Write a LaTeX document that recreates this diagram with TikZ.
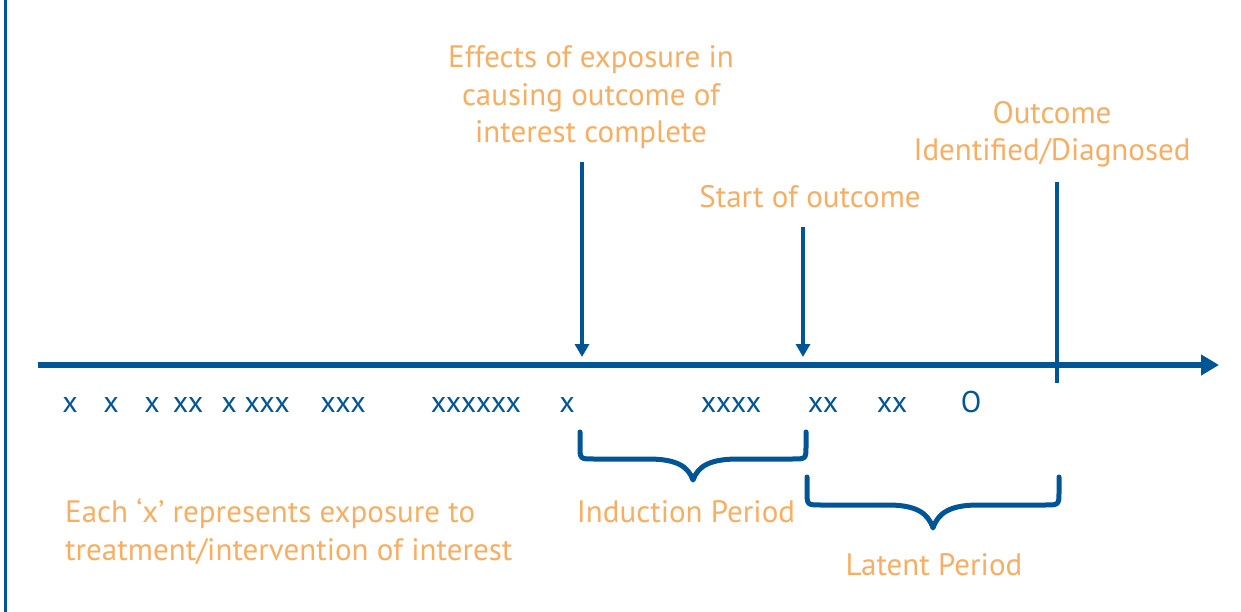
\documentclass[tikz,border=0pt]{standalone}
\usepackage{fontspec}
\setmainfont{PT Sans}
\usetikzlibrary{arrows.meta}
\definecolor{tlblue}{RGB}{0,85,150}
\definecolor{tlorange}{RGB}{248,174,98}
\begin{document}
\begin{tikzpicture}[x=1pt,y=-1pt,
  note/.style={text=tlorange, font=\fontsize{31}{37.5}\selectfont, inner sep=0pt, anchor=base},
  expo/.style={text=tlblue, font=\fontsize{30}{35}\selectfont, inner sep=0pt, anchor=base},
  axis/.style={draw=tlblue, line width=6pt, -{Triangle[length=18pt,width=20pt]}},
  pointer/.style={draw=tlblue, line width=3.2pt, -{Triangle[length=13pt,width=14pt]}},
  brace/.style={draw=tlblue, line width=5pt, line cap=round, line join=round},
]
\useasboundingbox (0,0) rectangle (1241,612);

% left frame rule
\draw[tlblue, line width=3pt] (5.5,0) -- (5.5,612);

% time axis
\coordinate (t0) at (38,365);
\coordinate (t1) at (1219,365);
\draw[axis] (t0) -- (t1);

% event markers
\coordinate (p1top) at (582,162);
\coordinate (p1tip) at (582,357);
\draw[pointer] (p1top) -- (p1tip);
\coordinate (p2top) at (803,227);
\coordinate (p2tip) at (803,357);
\draw[pointer] (p2top) -- (p2tip);
\coordinate (diagtop) at (1057,182);
\coordinate (diagbot) at (1057,383);
\draw[tlblue, line width=4pt] (diagtop) -- (diagbot);

% event labels (base anchor sits on the last line)
\node[note, align=center] (effects) at (591,143) {Effects of exposure in\\causing outcome of\\interest complete};
\node[note] (start) at (810,208) {Start of outcome};
\node[note, align=center] (diag) at (1052,161) {Outcome\\Identified/Diagnosed};

% exposures along the axis
\node[expo] (m1) at (70,412) {x};
\node[expo] (m2) at (111,412) {x};
\node[expo] (m3) at (152,412) {x};
\node[expo] (m4) at (188,412) {xx};
\node[expo] (m5) at (229,412) {x};
\node[expo] (m6) at (267,412) {xxx};
\node[expo] (m7) at (343,412) {xxx};
\node[expo] (m8) at (476,412) {xxxxxx};
\node[expo] (m9) at (567,412) {x};
\node[expo] (m10) at (731,412) {xxxx};
\node[expo] (m11) at (823,412) {xx};
\node[expo] (m12) at (892,412) {xx};
\node[expo] (m13) at (971,412) {O};

% induction period brace
\draw[brace] (580,432) -- (580,446) .. controls (580,459) .. (594,459) -- (648,459)
  .. controls (676,459) and (688,466) .. (693,480)
  .. controls (698,466) and (710,459) .. (738,459) -- (792,459)
  .. controls (806,459) .. (806,446) -- (806,432);
\node[note] (induction) at (686,522) {Induction Period};

% latent period brace
\draw[brace] (807,477) -- (807,491) .. controls (807,505) .. (821,505) -- (888,505)
  .. controls (916,505) and (928,513) .. (933,528)
  .. controls (938,513) and (950,505) .. (978,505) -- (1045,505)
  .. controls (1059,505) .. (1059,491) -- (1059,477);
\node[note] (latent) at (934,575) {Latent Period};

% legend
\node[note, align=left, anchor=base west] (legend) at (65,560) {Each ‘x’ represents exposure to\\treatment/intervention of interest};
\end{tikzpicture}
\end{document}
